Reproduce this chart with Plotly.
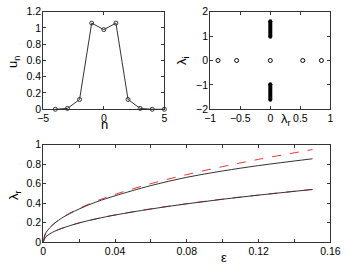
import plotly.graph_objects as go

# Panel (a): profile
n_vals = [-4, -3, -2, -1, 0, 1, 2, 3, 4, 5]
u_vals = [0.0, 0.01, 0.12, 1.06, 0.98, 1.06, 0.12, 0.01, 0.0, 0.0]

# Panel (b): spectrum
eig_r = [-0.87, -0.56, 0.0, 0.54, 0.85]
eig_i = [0.0, 0.0, 0.0, 0.0, 0.0]
band_upper = [0.97, 1.61]
band_lower = [-0.97, -1.61]

# Panel (c): lambda_r vs epsilon
eps = [0, 0.001, 0.0025, 0.005, 0.01, 0.02, 0.03, 0.04, 0.06, 0.08, 0.10, 0.12, 0.15]
up_num = [0, 0.077, 0.122, 0.172, 0.243, 0.34, 0.415, 0.475, 0.58, 0.665, 0.73, 0.785, 0.855]
up_app = [0, 0.077, 0.122, 0.173, 0.245, 0.346, 0.424, 0.49, 0.60, 0.693, 0.775, 0.849, 0.949]
lo_num = [0, 0.044, 0.07, 0.099, 0.139, 0.197, 0.241, 0.278, 0.34, 0.393, 0.44, 0.482, 0.54]
lo_app = [0, 0.044, 0.07, 0.099, 0.139, 0.197, 0.241, 0.279, 0.341, 0.394, 0.441, 0.483, 0.541]

# tick labels
eps_ticks = [0, 0.04, 0.08, 0.12, 0.16]
eps_ticktext = ["0", "0.04", "0.08", "0.12", "0.16"]

W, H = 349, 273
FONT = "Liberation Sans, Arial, sans-serif"

def dx(a, b):
    return [a / W, b / W]

def dy(top, bottom):
    return [1 - bottom / H, 1 - top / H]

fig = go.Figure()

# (a)
fig.add_trace(go.Scatter(x=n_vals, y=u_vals, mode="lines+markers",
                         line=dict(color="#333333", width=1),
                         marker=dict(symbol="circle-open", size=4, color="#333333", line=dict(width=1)),
                         xaxis="x", yaxis="y", showlegend=False, cliponaxis=False))
# (b)
fig.add_trace(go.Scatter(x=eig_r, y=eig_i, mode="markers",
                         marker=dict(symbol="circle-open", size=4, color="black", line=dict(width=1)),
                         xaxis="x2", yaxis="y2", showlegend=False))
for band in (band_upper, band_lower):
    fig.add_trace(go.Scatter(x=[0, 0], y=band, mode="lines",
                             line=dict(color="black", width=4),
                             xaxis="x2", yaxis="y2", showlegend=False))
    fig.add_trace(go.Scatter(x=[0, 0], y=band, mode="markers",
                             marker=dict(color="black", size=4),
                             xaxis="x2", yaxis="y2", showlegend=False))
# (c)
fig.add_trace(go.Scatter(x=eps, y=up_app, mode="lines", line=dict(color="#ee3333", width=1, dash="dash", shape="spline"),
                         xaxis="x3", yaxis="y3", showlegend=False))
fig.add_trace(go.Scatter(x=eps, y=up_num, mode="lines", line=dict(color="#333333", width=1, shape="spline"),
                         xaxis="x3", yaxis="y3", showlegend=False))
fig.add_trace(go.Scatter(x=eps, y=lo_app, mode="lines", line=dict(color="#ee3333", width=1, dash="dash", shape="spline"),
                         xaxis="x3", yaxis="y3", showlegend=False))
fig.add_trace(go.Scatter(x=eps, y=lo_num, mode="lines", line=dict(color="#333333", width=1, shape="spline"),
                         xaxis="x3", yaxis="y3", showlegend=False))

ax_common = dict(showgrid=False, zeroline=False, showline=True, mirror="ticks", linecolor="#333333",
                 linewidth=1, ticks="inside", ticklen=3, tickcolor="#333333",
                 tickfont=dict(family=FONT, size=10.5, color="black"))
xa = dict(ticklabelstandoff=-1, **ax_common)
ya = dict(ticklabelstandoff=-1, **ax_common)

fig.update_layout(
    width=W, height=H, margin=dict(l=0, r=0, t=0, b=0),
    paper_bgcolor="white", plot_bgcolor="white",
    xaxis=dict(domain=dx(39, 166), range=[-5, 5], tickvals=[-5, 0, 5],
               ticktext=["\u22125", "0", "5"], anchor="y", **xa),
    yaxis=dict(domain=dy(6, 108), range=[0, 1.2], tickvals=[0, 0.2, 0.4, 0.6, 0.8, 1, 1.2],
               ticktext=["0", "0.2", "0.4", "0.6", "0.8", "1", "1.2"], anchor="x", **ya),
    xaxis2=dict(domain=dx(214, 340), range=[-1, 1], tickvals=[-1, -0.5, 0, 0.5, 1],
                ticktext=["\u22121", "\u22120.5", "0", "0.5", "1"], anchor="y2", **xa),
    yaxis2=dict(domain=dy(6, 108), range=[-2, 2], tickvals=[-2, -1, 0, 1, 2],
                ticktext=["\u22122", "\u22121", "0", "1", "2"], anchor="x2", **ya),
    xaxis3=dict(domain=dx(39, 340), range=[0, 0.16], tickvals=eps_ticks,
                ticktext=eps_ticktext, anchor="y3",
                minor=dict(dtick=0.02, ticks="inside", ticklen=3, tickcolor="#333333"), **xa),
    yaxis3=dict(domain=dy(145, 247), range=[0, 1], tickvals=[0, 0.2, 0.4, 0.6, 0.8, 1],
                ticktext=["0", "0.2", "0.4", "0.6", "0.8", "1"], anchor="x3", **ya),
)

def ann(text, x, y, angle=0, size=13, xanchor="center"):
    fig.add_annotation(text=text, x=x / W, y=1 - y / H, xref="paper", yref="paper",
                       showarrow=False, textangle=angle, font=dict(family=FONT, size=size, color="black"),
                       xanchor=xanchor, yanchor="middle")

ann("u<sub>n</sub>", 8, 59, angle=-90)
ann("n", 103, 124)
ann("\u03bb<sub>i</sub>", 185, 57, angle=-90)
ann("\u03bb<sub>r</sub>", 293, 119)
ann("\u03bb<sub>r</sub>", 9, 198, angle=-90)
ann("\u03b5", 228, 263)

fig.write_html("out.html", config={"displayModeBar": False},
               post_script="document.body.style.margin='0';")
